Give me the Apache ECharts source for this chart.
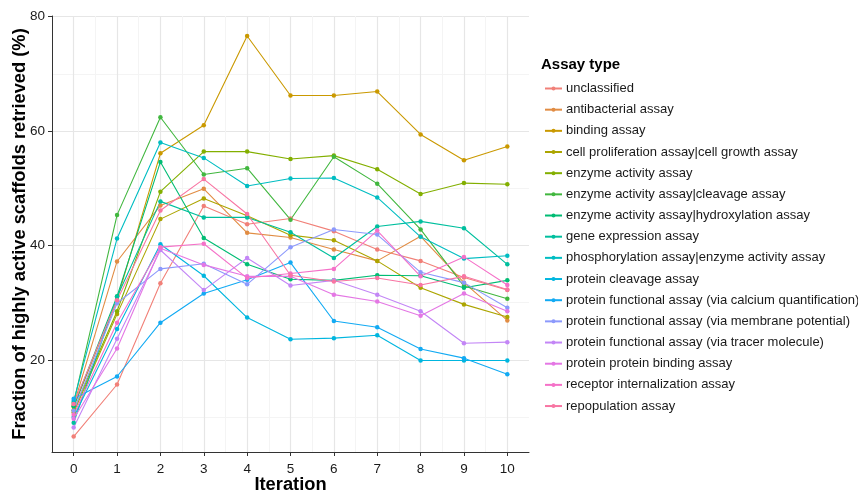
<!DOCTYPE html>
<html><head><meta charset="utf-8">
<script src="https://cdn.jsdelivr.net/npm/echarts@6/dist/echarts.min.js"></script>
<style>html,body{margin:0;padding:0;background:#fff}#c{width:858px;height:492px}</style>
</head><body><div id="c"></div>
<script>
const iterations = [0, 1, 2, 3, 4, 5, 6, 7, 8, 9, 10];
const xTickValues = [0, 1, 2, 3, 4, 5, 6, 7, 8, 9, 10];
const xMinorValues = [0.5, 1.5, 2.5, 3.5, 4.5, 5.5, 6.5, 7.5, 8.5, 9.5];
const yTickValues = [20, 40, 60, 80];
const yMinorValues = [10, 30, 50, 70];
const assayTypes = [
  'unclassified',
  'antibacterial assay',
  'binding assay',
  'cell proliferation assay|cell growth assay',
  'enzyme activity assay',
  'enzyme activity assay|cleavage assay',
  'enzyme activity assay|hydroxylation assay',
  'gene expression assay',
  'phosphorylation assay|enzyme activity assay',
  'protein cleavage assay',
  'protein functional assay (via calcium quantification)',
  'protein functional assay (via membrane potential)',
  'protein functional assay (via tracer molecule)',
  'protein protein binding assay',
  'receptor internalization assay',
  'repopulation assay'
];
const unclassified      = [6.6, 15.7, 33.4, 46.9, 43.7, 44.7, 42.5, 39.3, 37.3, 34.4, 32.2];
const antibacterial     = [12.1, 37.2, 47.0, 49.9, 42.2, 41.4, 39.3, 37.3, 41.6, 33.5, 26.9];
const binding           = [11.8, 30.5, 56.1, 61.0, 76.6, 66.2, 66.2, 66.9, 59.4, 54.9, 57.3];
const cellProliferation = [10.8, 28.0, 44.6, 48.2, 45.2, 41.8, 40.9, 37.3, 32.6, 29.7, 27.5];
const enzymeActivity    = [11.2, 28.5, 49.4, 56.4, 56.4, 55.1, 55.7, 53.3, 49.0, 50.9, 50.7];
const enzymeCleavage    = [12.5, 45.3, 62.4, 52.4, 53.5, 44.5, 55.5, 50.8, 42.8, 32.9, 30.7];
const enzymeHydroxyl    = [11.9, 31.1, 54.6, 41.3, 36.7, 34.1, 33.9, 34.8, 34.7, 32.6, 33.9];
const geneExpression    = [9.0, 31.0, 47.7, 44.9, 44.9, 42.3, 37.8, 43.3, 44.2, 43.0, 36.7];
const phosphorylation   = [12.8, 41.2, 58.0, 55.3, 50.4, 51.7, 51.8, 48.4, 41.5, 37.7, 38.2];
const proteinCleavage   = [10.0, 25.4, 40.2, 34.7, 27.4, 23.6, 23.8, 24.3, 19.9, 19.9, 19.9];
const calcium           = [13.2, 17.1, 26.5, 31.6, 34.0, 37.0, 26.8, 25.7, 21.9, 20.3, 17.5];
const membrane          = [11.1, 29.9, 35.9, 36.8, 33.2, 39.7, 42.8, 41.9, 35.3, 33.5, 29.1];
const tracer            = [8.2, 23.7, 39.2, 32.2, 37.8, 33.0, 33.9, 31.4, 28.5, 22.9, 23.1];
const proteinBinding    = [9.7, 22.0, 39.5, 36.6, 34.6, 34.6, 31.4, 30.2, 27.7, 31.6, 28.5];
const receptor          = [10.4, 26.5, 39.7, 40.3, 34.3, 35.1, 35.9, 42.6, 34.6, 38.0, 33.1];
const repopulation      = [12.3, 30.4, 46.1, 51.6, 45.5, 34.8, 33.7, 34.3, 33.1, 34.6, 32.3];

const seriesValues = [unclassified, antibacterial, binding, cellProliferation, enzymeActivity,
  enzymeCleavage, enzymeHydroxyl, geneExpression, phosphorylation, proteinCleavage, calcium,
  membrane, tracer, proteinBinding, receptor, repopulation];

// ggplot2-style hue palette (HCL)
function hcl(h, c, l) {
  const hr = h * Math.PI / 180;
  const U = c * Math.cos(hr), V = c * Math.sin(hr);
  const Xn = 95.047, Yn = 100, Zn = 108.883;
  const den = Xn + 15 * Yn + 3 * Zn;
  const un = 4 * Xn / den, vn = 9 * Yn / den;
  const Y = Yn * Math.pow((l + 16) / 116, 3);
  const u = U / (13 * l) + un, v = V / (13 * l) + vn;
  const X = 9 * Y * u / (4 * v);
  const Z = -X / 3 - 5 * Y + 3 * Y / v;
  const x = X / 100, y = Y / 100, z = Z / 100;
  const r = 3.240479 * x - 1.537150 * y - 0.498535 * z;
  const g = -0.969256 * x + 1.875992 * y + 0.041556 * z;
  const b = 0.055648 * x - 0.204043 * y + 1.057311 * z;
  const gam = t => {
    t = t <= 0.0031308 ? 12.92 * t : 1.055 * Math.pow(t, 1 / 2.4) - 0.055;
    return Math.round(Math.max(0, Math.min(1, t)) * 255);
  };
  return 'rgb(' + gam(r) + ',' + gam(g) + ',' + gam(b) + ')';
}
const n = assayTypes.length;
const palette = assayTypes.map((_, i) => hcl(15 + 360 * i / n, 85, 66));

const font = '"Liberation Sans", Arial, Helvetica, sans-serif';

const series = assayTypes.map((name, i) => ({
  name: name,
  type: 'line',
  xAxisIndex: 0,
  yAxisIndex: 0,
  data: iterations.map((it, j) => [it, seriesValues[i][j]]),
  symbol: 'circle',
  symbolSize: 4.5,
  showSymbol: true,
  lineStyle: { width: 1.1, color: palette[i] },
  itemStyle: { color: palette[i] },
  emphasis: { disabled: true },
  z: 3
}));

const chart = echarts.init(document.getElementById('c'), null, { renderer: 'canvas' });
chart.setOption({
  animation: false,
  backgroundColor: '#ffffff',
  textStyle: { fontFamily: font },
  color: palette,
  title: {
    text: 'Assay type',
    left: 541,
    top: 57,
    padding: 0,
    textStyle: { fontFamily: font, fontSize: 15, fontWeight: 'bold', color: '#000' }
  },
  legend: {
    orient: 'vertical',
    left: 544,
    top: 82,
    itemWidth: 17,
    itemHeight: 5,
    itemGap: 8.17,
    padding: 0,
    data: assayTypes,
    textStyle: { fontFamily: font, fontSize: 13, color: '#1a1a1a', padding: [0, 0, 0, -1] },
    selectedMode: false
  },
  grid: { left: 52, top: 16, width: 477, height: 436, containLabel: false, outerBoundsMode: 'none' },
  xAxis: [{
    type: 'value', min: -0.5, max: 10.5,
    name: 'Iteration', nameLocation: 'middle', nameGap: 24, nameMoveOverlap: false,
    nameTextStyle: { fontFamily: font, fontSize: 18.3, fontWeight: 'bold', color: '#000' },
    axisLine: { show: true, onZero: false, lineStyle: { color: '#333', width: 1 } },
    axisTick: { show: true, customValues: xTickValues, length: 4, lineStyle: { color: '#333' } },
    axisLabel: { customValues: xTickValues, fontFamily: font, fontSize: 13.5, color: '#1a1a1a', margin: 10 },
    splitLine: { show: true, lineStyle: { color: '#e6e6e6', width: 1.2 } }
  }, {
    type: 'value', min: -0.5, max: 10.5, position: 'bottom',
    axisLine: { show: false }, axisLabel: { show: false },
    axisTick: { show: false, customValues: xMinorValues },
    splitLine: { show: true, lineStyle: { color: '#f4f4f4', width: 1 } }
  }],
  yAxis: [{
    type: 'value', min: 3.9, max: 80.1,
    name: 'Fraction of highly active scaffolds retrieved (%)', nameLocation: 'middle', nameGap: 23, nameMoveOverlap: false,
    nameTextStyle: { fontFamily: font, fontSize: 18.3, fontWeight: 'bold', color: '#000' },
    axisLine: { show: true, onZero: false, lineStyle: { color: '#333', width: 1 } },
    axisTick: { show: true, customValues: yTickValues, length: 4, lineStyle: { color: '#333' } },
    axisLabel: { customValues: yTickValues, fontFamily: font, fontSize: 13.5, color: '#1a1a1a', margin: 7 },
    splitLine: { show: true, lineStyle: { color: '#e6e6e6', width: 1.2 } }
  }, {
    type: 'value', min: 3.9, max: 80.1, position: 'left',
    axisLine: { show: false }, axisLabel: { show: false },
    axisTick: { show: false, customValues: yMinorValues },
    splitLine: { show: true, lineStyle: { color: '#f4f4f4', width: 1 } }
  }],
  series: series
});
</script>
</body></html>
